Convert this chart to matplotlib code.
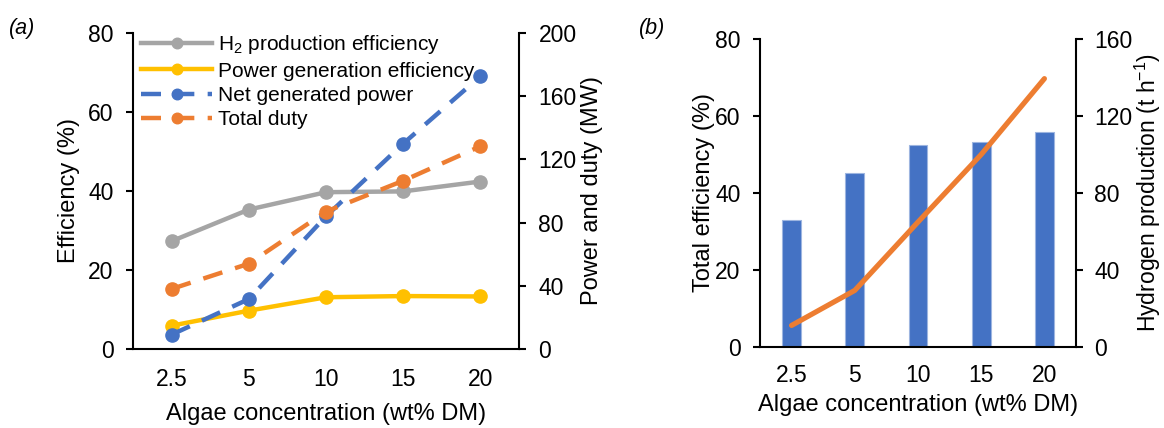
import numpy as np
import matplotlib.pyplot as plt

plt.rcParams['font.family'] = ['Liberation Sans', 'DejaVu Sans']
plt.rcParams['mathtext.fontset'] = 'custom'
plt.rcParams['mathtext.rm'] = 'Liberation Sans'
plt.rcParams['mathtext.it'] = 'Liberation Sans:italic'

conc = ['2.5', '5', '10', '15', '20']
h2_eff = [27.3, 35.3, 39.7, 39.9, 42.4]
power_eff = [5.9, 9.7, 13.1, 13.4, 13.3]
net_power = [9.1, 31.6, 84.0, 130.0, 172.6]
total_duty = [38.0, 54.0, 87.0, 106.5, 128.3]
total_eff = [33.0, 45.2, 52.4, 53.2, 55.8]
h2_prod = [11.2, 29.4, 64.9, 100.0, 139.4]

grey = '#A5A5A5'
yellow = '#FFC000'
blue = '#4472C4'
orange = '#ED7D31'

fig = plt.figure(figsize=(11.64, 4.28), dpi=100)
x = np.arange(len(conc))
fs = 17
tfs = 16.5

# panel (a)
ax1 = fig.add_axes([0.1143, 0.1846, 0.3316, 0.7383])
ax2 = ax1.twinx()
l1, = ax1.plot(x, h2_eff, color=grey, lw=3.2, marker='o', ms=9.5, label=r'H$_\mathrm{2}$ production efficiency')
l2, = ax1.plot(x, power_eff, color=yellow, lw=3.2, marker='o', ms=9.5, label='Power generation efficiency')
l3, = ax2.plot(x, net_power, color=blue, lw=3.2, marker='o', ms=9.5, dashes=(4.5, 3), label='Net generated power')
l4, = ax2.plot(x, total_duty, color=orange, lw=3.2, marker='o', ms=9.5, dashes=(4.5, 3), label='Total duty')
ax1.set_ylim(0, 80)
ax1.set_yticks([0, 20, 40, 60, 80])
ax2.set_ylim(0, 200)
ax2.set_yticks([0, 40, 80, 120, 160, 200])
ax1.set_xlim(-0.5, 4.5)
ax1.set_xticks(x)
ax1.set_xticklabels(conc)
ax1.set_ylabel('Efficiency (%)', fontsize=fs, labelpad=6)
ax2.set_ylabel('Power and duty (MW)', fontsize=fs, labelpad=3)
ax1.set_xlabel('Algae concentration (wt% DM)', fontsize=fs, labelpad=9)
leg = ax1.legend(handles=[l1, l2, l3, l4], loc='upper left', frameon=False, fontsize=15,
                 handlelength=3.4, handletextpad=0.3, labelspacing=0.25, numpoints=1,
                 markerscale=0.8, borderaxespad=0.0, bbox_to_anchor=(0.0, 1.025))

# panel (b)
ax3 = fig.add_axes([0.6529, 0.1893, 0.2715, 0.7196])
ax4 = ax3.twinx()
ax3.bar(x, total_eff, width=0.3, color=blue, edgecolor='#9DB5E0', linewidth=0.8)
ax4.plot(x, h2_prod, color=orange, lw=3.75, solid_capstyle='round')
ax3.set_ylim(0, 80)
ax3.set_yticks([0, 20, 40, 60, 80])
ax4.set_ylim(0, 160)
ax4.set_yticks([0, 40, 80, 120, 160])
ax3.set_xlim(-0.5, 4.5)
ax3.set_xticks(x)
ax3.set_xticklabels(conc)
ax3.set_ylabel('Total efficiency (%)', fontsize=fs, labelpad=0)
ax4.set_ylabel('Hydrogen production (t h$^\\mathrm{-1}$)', fontsize=16.5, labelpad=0)
ax3.set_xlabel('Algae concentration (wt% DM)', fontsize=fs, labelpad=5)

for a in (ax1, ax2, ax3, ax4):
    for s in a.spines.values():
        s.set_visible(False)
    a.tick_params(labelsize=tfs, width=1.5, length=5, pad=9)
ax4.tick_params(axis='y', pad=8)
for a in (ax1, ax2):
    a.tick_params(axis='x', length=0, pad=13.5)
for a in (ax3, ax4):
    a.tick_params(axis='x', length=0, pad=12)
for a in (ax1, ax3):
    a.spines['left'].set_visible(True)
    a.spines['bottom'].set_visible(True)
    a.spines['left'].set_linewidth(1.5)
    a.spines['bottom'].set_linewidth(1.5)
for a in (ax2, ax4):
    a.spines['right'].set_visible(True)
    a.spines['right'].set_linewidth(1.5)

fig.text(0.008, 0.92, '(a)', fontsize=15.5, style='italic')
fig.text(0.549, 0.92, '(b)', fontsize=15.5, style='italic')

fig.savefig('out.png', dpi=100)
